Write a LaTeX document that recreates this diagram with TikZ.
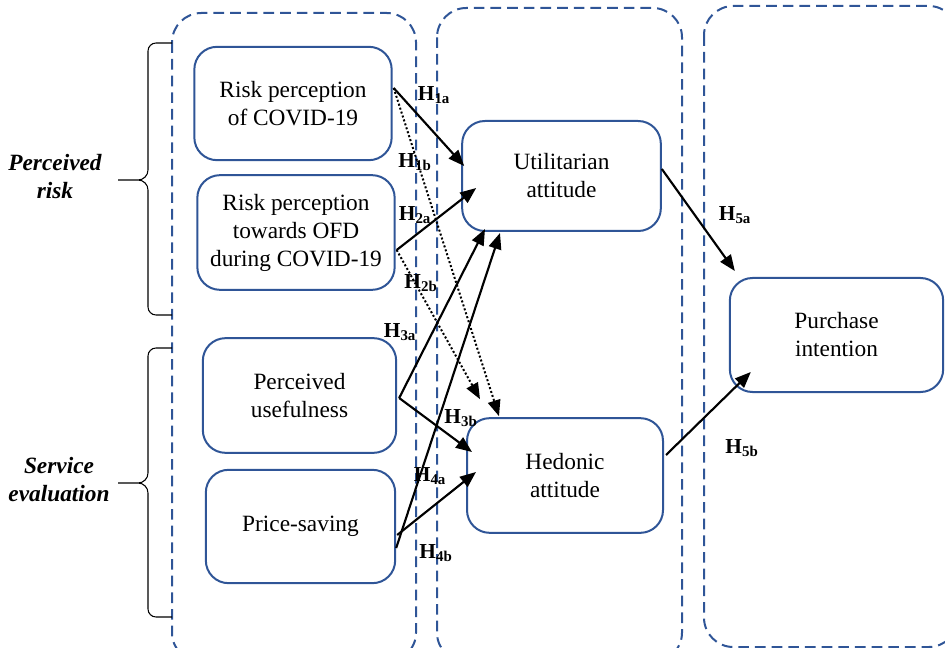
\documentclass[tikz,border=0pt]{standalone}
\usepackage{fontspec}
\setmainfont{Liberation Serif}
\usetikzlibrary{arrows.meta}
\definecolor{frameblue}{HTML}{2F5597}

\tikzset{
  stage/.style={draw=frameblue, line width=1.5pt, dash pattern=on 8pt off 4.5pt, rounded corners=22pt},
  construct/.style={draw=frameblue, fill=white, line width=1.5pt, rounded corners=17pt, align=center, inner sep=0pt, font=\fontsize{17.5}{21}\selectfont},
  hyp/.style={inner sep=1pt, font=\fontsize{16}{18}\selectfont\bfseries},
  effect/.style={line width=1.6pt, -{Triangle[length=12pt,width=9.5pt]}},
  doteffect/.style={effect, line width=1.5pt, dash pattern=on 1.5pt off 1.6pt},
  grouplabel/.style={align=center, font=\fontsize{17.5}{21}\selectfont\bfseries\itshape},
  bracket/.style={line width=0.8pt}
}

\newcommand{\groupbrace}[3]{%
  \draw[bracket] (172,#1) -- (156,#1) to[out=180,in=90] (148,#1+8) -- (148,#3-10) to[out=-90,in=0] (138,#3) -- (118,#3)
    (138,#3) to[out=0,in=90] (148,#3+10) -- (148,#2-8) to[out=-90,in=180] (156,#2) -- (172,#2);}

\begin{document}
\begin{tikzpicture}[x=0.75pt, y=-0.75pt, line join=round]
\useasboundingbox (0,0) rectangle (945,648);
\draw[stage] (172,13) rectangle (416,662);
\draw[stage] (437,8) rectangle (682,662);
\draw[stage] (704,6) rectangle (958,647);
\groupbrace{43}{315}{180}
\groupbrace{348}{617}{483}
\node[grouplabel] (prisk) at (55,177) {Perceived\\risk};
\node[grouplabel] (seval) at (59,480) {Service\\evaluation};
\node[construct, minimum width=148pt, minimum height=85pt] (rpc) at (293,103.5) {Risk perception\\of COVID-19};
\node[construct, minimum width=148pt, minimum height=86pt] (rpo) at (296,232.5) {Risk perception\\towards OFD\\during COVID-19};
\node[construct, minimum width=145pt, minimum height=86pt] (pu) at (299.5,395.5) {Perceived\\usefulness};
\node[construct, minimum width=142pt, minimum height=85pt] (ps) at (300.5,526.5) {Price-saving};
\node[construct, minimum width=149pt, minimum height=82.5pt] (ua) at (561.5,176) {Utilitarian\\attitude};
\node[construct, minimum width=147pt, minimum height=86pt] (ha) at (565,475.5) {Hedonic\\attitude};
\node[construct, minimum width=160pt, minimum height=85.5pt] (pi) at (836.5,335) {Purchase\\intention};
\node[hyp] (h1a) at (434,95) {H\textsubscript{1a}};
\node[hyp] (h1b) at (415,162) {H\textsubscript{1b}};
\node[hyp] (h2a) at (415,215) {H\textsubscript{2a}};
\node[hyp] (h2b) at (421,283) {H\textsubscript{2b}};
\node[hyp] (h3a) at (400,332) {H\textsubscript{3a}};
\node[hyp] (h3b) at (461,418) {H\textsubscript{3b}};
\node[hyp] (h4a) at (430,476) {H\textsubscript{4a}};
\node[hyp] (h4b) at (436,553) {H\textsubscript{4b}};
\node[hyp] (h5a) at (735,215) {H\textsubscript{5a}};
\node[hyp] (h5b) at (742,448) {H\textsubscript{5b}};
\draw[effect] ([shift={(1,-15.5)}]rpc.east) -- ([shift={(3,-10)}]ua.west);
\draw[doteffect] ([shift={(1,-15.5)}]rpc.east) -- ([shift={(-66,-1)}]ha.north);
\draw[effect] ([shift={(1,17.5)}]rpo.east) -- ([shift={(15,12)}]ua.west);
\draw[doteffect] ([shift={(1,17.5)}]rpo.east) -- ([shift={(-85,-18)}]ha.north);
\draw[effect] ([shift={(2,2.5)}]pu.east) -- ([shift={(-76.5,-3)}]ua.south);
\draw[effect] ([shift={(2,2.5)}]pu.east) -- ([shift={(6,-23.5)}]ha.west);
\draw[effect] ([shift={(0,21.5)}]ps.east) -- ([shift={(-61.5,1)}]ua.south);
\draw[effect] ([shift={(1,8.5)}]ps.east) -- ([shift={(10,-3.5)}]ha.west);
\draw[effect] ([shift={(0,-7)}]ua.east) -- ([shift={(6,-6)}]pi.north west);
\draw[effect] ([shift={(2,-20.5)}]ha.east) -- ([shift={(22,-21)}]pi.south west);
\end{tikzpicture}
\end{document}
